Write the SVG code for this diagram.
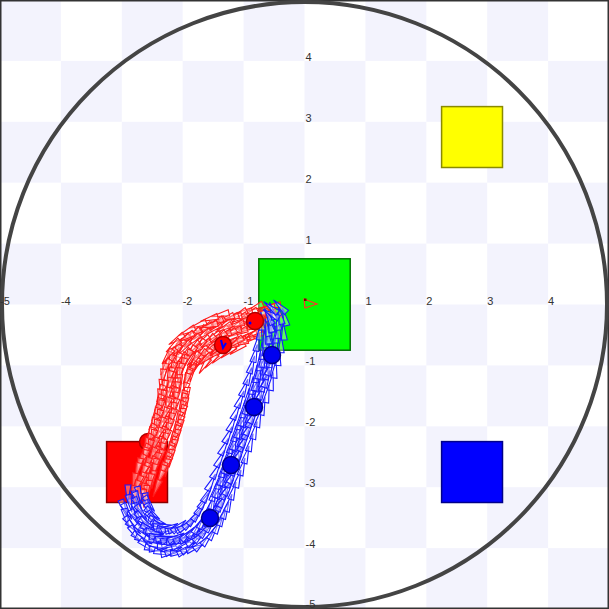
<svg xmlns="http://www.w3.org/2000/svg" width="609" height="609" viewBox="0 0 609 609">
<style>
.lbl{font-family:"Liberation Sans",Arial,sans-serif;font-size:11px;fill:#333}
.box{stroke-width:1.5}
.r{stroke:#ff1a1a;fill:#fff;fill-opacity:0.35;stroke-width:1.1}
.b{stroke:#1a1aff;fill:#fff;fill-opacity:0.35;stroke-width:1.1}
.rbot{fill:#f00;stroke:#b00000;stroke-width:1.5}
.bbot{fill:#0000f0;stroke:#00008a;stroke-width:1.5}
</style>
<defs>
<pattern id="ck" width="121.8" height="121.8" patternUnits="userSpaceOnUse">
<rect width="60.9" height="60.9" fill="#f3f3fd"/>
<rect x="60.9" y="60.9" width="60.9" height="60.9" fill="#f3f3fd"/>
</pattern>
<path id="t" d="M0,0 L-18,-3 L-18,3Z"/>
<g id="b3"><use href="#t" transform="translate(0,-7) rotate(-7)"/><use href="#t" transform="translate(4,0) rotate(4)"/><use href="#t" transform="translate(-3,7) rotate(9)"/></g>
<g id="b5"><use href="#t" transform="translate(2,-11) rotate(6)"/><use href="#t" transform="translate(-2,-5) rotate(-5)"/><use href="#t" transform="translate(3,0) rotate(-9)"/><use href="#t" transform="translate(-1,5) rotate(4)"/><use href="#t" transform="translate(2,11) rotate(-4)"/></g>
<g id="bw"><use href="#t" transform="translate(0,-16) rotate(-10)"/><use href="#t" transform="translate(4,-10) rotate(5)"/><use href="#t" transform="translate(-3,-4) rotate(-4)"/><use href="#t" transform="translate(2,2) rotate(8)"/><use href="#t" transform="translate(-2,8) rotate(-6)"/><use href="#t" transform="translate(3,14) rotate(10)"/></g>
<g id="bx"><use href="#t" transform="translate(1,-21) rotate(-12)"/><use href="#t" transform="translate(-3,-14) rotate(6)"/><use href="#t" transform="translate(4,-7) rotate(-5)"/><use href="#t" transform="translate(-2,0) rotate(9)"/><use href="#t" transform="translate(3,7) rotate(-7)"/><use href="#t" transform="translate(-1,14) rotate(4)"/><use href="#t" transform="translate(2,21) rotate(12)"/></g>
</defs>
<rect width="609" height="609" fill="#fff"/>
<rect width="609" height="609" fill="url(#ck)"/>
<rect x="0.75" y="0.75" width="607.5" height="607.5" fill="none" stroke="#333" stroke-width="1.5"/>
<circle id="arena" cx="304.5" cy="304.5" r="302.5" fill="none" stroke="#444" stroke-width="4"/>
<g id="axes">
<text class="lbl" x="0" y="304.5">-5</text>
<text class="lbl" x="60.9" y="304.5">-4</text>
<text class="lbl" x="121.8" y="304.5">-3</text>
<text class="lbl" x="182.7" y="304.5">-2</text>
<text class="lbl" x="243.6" y="304.5">-1</text>
<text class="lbl" x="365.4" y="304.5">1</text>
<text class="lbl" x="426.3" y="304.5">2</text>
<text class="lbl" x="487.2" y="304.5">3</text>
<text class="lbl" x="548.1" y="304.5">4</text>
<text class="lbl" x="305.5" y="60.9">4</text>
<text class="lbl" x="305.5" y="121.8">3</text>
<text class="lbl" x="305.5" y="182.7">2</text>
<text class="lbl" x="305.5" y="243.6">1</text>
<text class="lbl" x="305.5" y="365.4">-1</text>
<text class="lbl" x="305.5" y="426.3">-2</text>
<text class="lbl" x="305.5" y="487.2">-3</text>
<text class="lbl" x="305.5" y="548.1">-4</text>
<text class="lbl" x="305.5" y="608">-5</text>
</g>
<g id="yellow"><rect class="box" x="441.6" y="106.6" width="60.9" height="60.9" fill="#ff0" stroke="#8a8a00"/></g>
<g id="blue"><rect class="box" x="441.6" y="441.6" width="60.9" height="60.9" fill="#00f" stroke="#00008a"/></g>
<g id="red"><rect class="box" x="106.6" y="441.6" width="60.9" height="60.9" fill="#f00" stroke="#8a0000"/></g>
<g id="green"><rect class="box" x="258.8" y="258.8" width="91.4" height="91.4" fill="#0f0" stroke="#007000"/></g>
<circle id="robot-r3" class="rbot" cx="148" cy="442" r="8.5"/>
<g id="connectors">
<g id="redtrail" class="r">
<use href="#b3" transform="translate(262,315) rotate(162)"/>
<use href="#b3" transform="translate(257,318) rotate(158)"/>
<use href="#b5" transform="translate(252,321) rotate(160)"/>
<use href="#b3" transform="translate(247,323) rotate(163)"/>
<use href="#bw" transform="translate(242,326) rotate(160)"/>
<use href="#b5" transform="translate(237,328) rotate(156)"/>
<use href="#bw" transform="translate(232,331) rotate(158)"/>
<use href="#b5" transform="translate(227,332) rotate(162)"/>
<use href="#bx" transform="translate(222,335) rotate(155)"/>
<use href="#b5" transform="translate(217,337) rotate(150)"/>
<use href="#bx" transform="translate(212,339) rotate(152)"/>
<use href="#bw" transform="translate(207,342) rotate(145)"/>
<use href="#bx" transform="translate(202,345) rotate(148)"/>
<use href="#bw" transform="translate(197,347) rotate(140)"/>
<use href="#bx" transform="translate(193,351) rotate(142)"/>
<use href="#bw" transform="translate(189,354) rotate(130)"/>
<use href="#bx" transform="translate(185,358) rotate(135)"/>
<use href="#bw" transform="translate(181,362) rotate(125)"/>
<use href="#bw" transform="translate(178,367) rotate(120)"/>
<use href="#b5" transform="translate(176,372) rotate(115)"/>
<use href="#bw" transform="translate(175,377) rotate(110)"/>
<use href="#b5" transform="translate(174,382) rotate(104)"/>
<use href="#b5" transform="translate(173,387) rotate(100)"/>
<use href="#b3" transform="translate(173,392) rotate(96)"/>
<use href="#b5" transform="translate(172,397) rotate(98)"/>
<use href="#bw" transform="translate(171,402) rotate(102)"/>
<use href="#b5" transform="translate(170,407) rotate(100)"/>
<use href="#bw" transform="translate(169,412) rotate(104)"/>
<use href="#b5" transform="translate(168,417) rotate(106)"/>
<use href="#bw" transform="translate(166,422) rotate(106)"/>
<use href="#b5" transform="translate(165,427) rotate(108)"/>
<use href="#bw" transform="translate(163,432) rotate(110)"/>
<use href="#b5" transform="translate(162,437) rotate(108)"/>
<use href="#bw" transform="translate(160,442) rotate(110)"/>
<use href="#b5" transform="translate(158,447) rotate(112)"/>
<use href="#bw" transform="translate(157,452) rotate(110)"/>
<use href="#b5" transform="translate(155,457) rotate(108)"/>
<use href="#bw" transform="translate(154,462) rotate(110)"/>
<use href="#b5" transform="translate(152,467) rotate(112)"/>
<use href="#bw" transform="translate(150,472) rotate(108)"/>
<use href="#b5" transform="translate(148,477) rotate(106)"/>
<use href="#b5" transform="translate(146,482) rotate(108)"/>
<use href="#b3" transform="translate(145,487) rotate(104)"/>
<use href="#b5" transform="translate(143,492) rotate(106)"/>
<use href="#b3" transform="translate(141,497) rotate(102)"/>
<use href="#b3" transform="translate(139,502) rotate(100)"/>
<use href="#b3" transform="translate(137,507) rotate(96)"/>
<use href="#t" transform="translate(200,328) rotate(165)"/>
<use href="#t" transform="translate(178,342) rotate(150)"/>
<use href="#t" transform="translate(166,352) rotate(140)"/>
<use href="#t" transform="translate(162,364) rotate(125)"/>
<use href="#t" transform="translate(190,368) rotate(120)"/>
<use href="#t" transform="translate(210,356) rotate(135)"/>
<use href="#t" transform="translate(228,348) rotate(145)"/>
<use href="#t" transform="translate(246,338) rotate(150)"/>
</g>
<g id="bluetrail" class="b">
<use href="#b3" transform="translate(135,505) rotate(82)"/>
<use href="#b5" transform="translate(137,512) rotate(74)"/>
<use href="#bw" transform="translate(140,518) rotate(66)"/>
<use href="#b5" transform="translate(144,524) rotate(58)"/>
<use href="#bw" transform="translate(148,530) rotate(48)"/>
<use href="#b5" transform="translate(153,534) rotate(40)"/>
<use href="#bw" transform="translate(158,538) rotate(30)"/>
<use href="#b5" transform="translate(164,540) rotate(18)"/>
<use href="#bw" transform="translate(170,541) rotate(5)"/>
<use href="#b5" transform="translate(176,541) rotate(-5)"/>
<use href="#bw" transform="translate(182,539) rotate(-15)"/>
<use href="#b5" transform="translate(188,537) rotate(-22)"/>
<use href="#bw" transform="translate(194,534) rotate(-30)"/>
<use href="#b5" transform="translate(199,530) rotate(-40)"/>
<use href="#b5" transform="translate(204,525) rotate(-48)"/>
<use href="#b5" transform="translate(208,519) rotate(-55)"/>
<use href="#b5" transform="translate(212,513) rotate(-60)"/>
<use href="#b5" transform="translate(215,506) rotate(-64)"/>
<use href="#b5" transform="translate(218,499) rotate(-66)"/>
<use href="#b5" transform="translate(221,492) rotate(-68)"/>
<use href="#b3" transform="translate(223,486) rotate(-68)"/>
<use href="#b5" transform="translate(225,480) rotate(-69)"/>
<use href="#b3" transform="translate(228,474) rotate(-69)"/>
<use href="#b5" transform="translate(230,468) rotate(-69)"/>
<use href="#b3" transform="translate(232,462) rotate(-70)"/>
<use href="#b5" transform="translate(234,456) rotate(-70)"/>
<use href="#b3" transform="translate(236,450) rotate(-70)"/>
<use href="#b5" transform="translate(238,444) rotate(-70)"/>
<use href="#b3" transform="translate(240,438) rotate(-70)"/>
<use href="#b5" transform="translate(242,432) rotate(-71)"/>
<use href="#b3" transform="translate(244,426) rotate(-71)"/>
<use href="#b5" transform="translate(246,420) rotate(-72)"/>
<use href="#b3" transform="translate(248,414) rotate(-72)"/>
<use href="#b5" transform="translate(250,408) rotate(-72)"/>
<use href="#b3" transform="translate(252,402) rotate(-73)"/>
<use href="#b5" transform="translate(254,396) rotate(-73)"/>
<use href="#b3" transform="translate(256,390) rotate(-74)"/>
<use href="#b5" transform="translate(258,384) rotate(-75)"/>
<use href="#b3" transform="translate(260,378) rotate(-76)"/>
<use href="#b5" transform="translate(262,372) rotate(-77)"/>
<use href="#b3" transform="translate(264,366) rotate(-78)"/>
<use href="#b5" transform="translate(265,360) rotate(-79)"/>
<use href="#b3" transform="translate(267,354) rotate(-80)"/>
<use href="#b5" transform="translate(268,348) rotate(-82)"/>
<use href="#b3" transform="translate(269,342) rotate(-84)"/>
<use href="#b5" transform="translate(270,336) rotate(-86)"/>
<use href="#b3" transform="translate(271,330) rotate(-88)"/>
<use href="#b5" transform="translate(272,324) rotate(-90)"/>
<use href="#b3" transform="translate(272,318) rotate(-95)"/>
<use href="#b5" transform="translate(272,312) rotate(-100)"/>
<use href="#b3" transform="translate(271,306) rotate(-110)"/>
<use href="#b3" transform="translate(267,304) rotate(-145)"/>
</g>
</g>
<g id="robots">
<circle class="rbot" cx="223" cy="345" r="8.5"/>
<circle class="rbot" cx="255" cy="321" r="8.5"/>
<circle class="bbot" cx="272" cy="355" r="8.5"/>
<circle class="bbot" cx="254" cy="407" r="8.5"/>
<circle class="bbot" cx="231" cy="465" r="8.5"/>
<circle class="bbot" cx="210" cy="518" r="8.5"/>
<path d="M221,340 L223,348 L226,343" fill="none" stroke="#00f" stroke-width="2"/>
<circle cx="250" cy="323" r="1.5" fill="#00f"/>
</g>
<g id="marker">
<polygon points="304,299 317,304 305,308" fill="none" stroke="#ff3030" stroke-width="1.2"/>
<rect x="304" y="298.5" width="2.5" height="2.5" fill="#700"/>
</g>
</svg>
